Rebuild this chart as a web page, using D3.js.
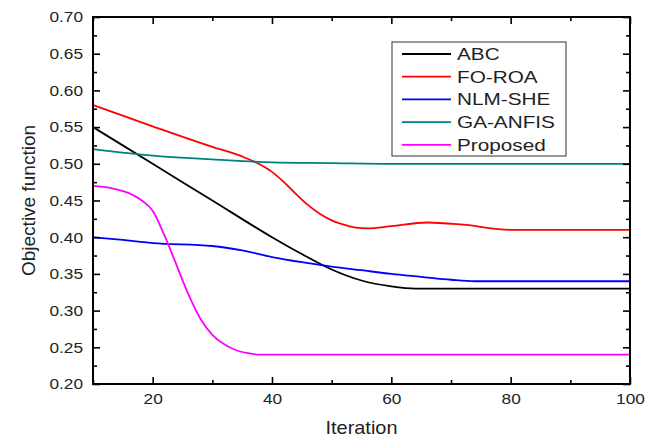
<!DOCTYPE html>
<html>
<head>
<meta charset="utf-8">
<script src="https://cdn.jsdelivr.net/npm/d3@7"></script>
<style>
  html, body { margin: 0; padding: 0; background: #fff; }
  svg { display: block; }
  text { font-family: "Liberation Sans", Arial, sans-serif; fill: #222; }
</style>
</head>
<body>
<svg id="chart" width="656" height="438"></svg>
<script>
// ---- data ----
const seriesNames = ["ABC", "FO-ROA", "NLM-SHE", "GA-ANFIS", "Proposed"];
const seriesColors = ["#000000", "#ff0000", "#0000ff", "#008080", "#ff00ff"];

const abcIter = [10, 20, 30, 40, 45, 50, 55, 60, 64, 100];
const abcVals = [0.55, 0.50, 0.45, 0.40, 0.377, 0.356, 0.341, 0.333, 0.33, 0.33];

const foroaIter = [10, 20, 30, 35, 38, 40, 42, 44, 46, 48, 50, 52, 54, 56, 60, 66, 72, 80, 100];
const foroaVals = [0.58, 0.551, 0.523, 0.51, 0.499, 0.489, 0.475, 0.459, 0.444, 0.432, 0.423, 0.417, 0.413, 0.412, 0.415, 0.42, 0.417, 0.41, 0.41];

const nlmIter = [10, 14, 20, 30, 35, 40, 45, 50, 55, 60, 65, 70, 74, 100];
const nlmVals = [0.40, 0.397, 0.392, 0.388, 0.382, 0.373, 0.366, 0.36, 0.355, 0.35, 0.346, 0.342, 0.34, 0.34];

const gaIter = [10, 20, 30, 40, 50, 60, 100];
const gaVals = [0.52, 0.511, 0.506, 0.502, 0.501, 0.50, 0.50];

const propIter = [10, 13, 16, 18, 20, 22, 24, 26, 28, 30, 32, 34, 36, 38, 40, 100];
const propVals = [0.47, 0.467, 0.460, 0.451, 0.436, 0.402, 0.362, 0.322, 0.289, 0.267, 0.254, 0.246, 0.242, 0.240, 0.24, 0.24];

const xMajorTicks = [20, 40, 60, 80, 100];
const xMinorTicks = [10, 30, 50, 70, 90];
const yMajorTicks = [0.20, 0.25, 0.30, 0.35, 0.40, 0.45, 0.50, 0.55, 0.60, 0.65, 0.70];
const yMinorTicks = [0.225, 0.275, 0.325, 0.375, 0.425, 0.475, 0.525, 0.575, 0.625, 0.675];

const xTitle = "Iteration";
const yTitle = "Objective function";

// ---- layout ----
const svg = d3.select("#chart");
const pL = 93, pR = 630, pT = 17, pB = 384;

const x = d3.scaleLinear().domain([10, 100]).range([pL, pR]);
const y = d3.scaleLinear().domain([0.2, 0.7]).range([pB, pT]);

const series = [
  { iter: abcIter, vals: abcVals },
  { iter: foroaIter, vals: foroaVals },
  { iter: nlmIter, vals: nlmVals },
  { iter: gaIter, vals: gaVals },
  { iter: propIter, vals: propVals }
];

function stretch(sel, f) {
  sel.each(function () {
    const len = this.getComputedTextLength();
    if (len > 0) d3.select(this).attr("textLength", len * f).attr("lengthAdjust", "spacingAndGlyphs");
  });
}

// lines
const line = d3.line().x(d => x(d[0])).y(d => y(d[1])).curve(d3.curveMonotoneX);
const plot = svg.append("g");
plot.append("clipPath").attr("id", "clip").append("rect")
  .attr("x", pL).attr("y", pT).attr("width", pR - pL).attr("height", pB - pT);
series.forEach((s, i) => {
  plot.append("path")
    .datum(s.iter.map((it, k) => [it, s.vals[k]]))
    .attr("fill", "none")
    .attr("stroke", seriesColors[i])
    .attr("stroke-width", 1.8)
    .attr("clip-path", "url(#clip)")
    .attr("d", line);
});

// axes (ticks inward)
function styleAxis(g) {
  g.selectAll(".domain").remove();
  g.selectAll("line").attr("stroke", "#000").attr("stroke-width", 1.6);
}
const majorLen = 7, minorLen = 4;
const fontFam = "Liberation Sans, Arial, sans-serif";

// bottom
const gB = svg.append("g").attr("transform", `translate(0,${pB})`);
gB.call(d3.axisBottom(x).tickValues(xMajorTicks).tickSize(-majorLen).tickPadding(9).tickFormat(d3.format("d")));
gB.append("g").call(d3.axisBottom(x).tickValues(xMinorTicks).tickSize(-minorLen).tickFormat(""));
styleAxis(gB);
gB.selectAll("text").attr("font-size", 15).attr("fill", "#222").attr("font-family", fontFam);
stretch(gB.selectAll("text"), 1.15);

// top
const gT = svg.append("g").attr("transform", `translate(0,${pT})`);
gT.call(d3.axisTop(x).tickValues(xMajorTicks).tickSize(-majorLen).tickFormat(""));
gT.append("g").call(d3.axisTop(x).tickValues(xMinorTicks).tickSize(-minorLen).tickFormat(""));
styleAxis(gT);

// left
const gL = svg.append("g").attr("transform", `translate(${pL},0)`);
gL.call(d3.axisLeft(y).tickValues(yMajorTicks).tickSize(-majorLen).tickPadding(10).tickFormat(d3.format(".2f")));
gL.append("g").call(d3.axisLeft(y).tickValues(yMinorTicks).tickSize(-minorLen).tickFormat(""));
styleAxis(gL);
gL.selectAll("text").attr("font-size", 15).attr("fill", "#222").attr("font-family", fontFam);
stretch(gL.selectAll("text"), 1.15);

// right
const gR = svg.append("g").attr("transform", `translate(${pR},0)`);
gR.call(d3.axisRight(y).tickValues(yMajorTicks).tickSize(-majorLen).tickFormat(""));
gR.append("g").call(d3.axisRight(y).tickValues(yMinorTicks).tickSize(-minorLen).tickFormat(""));
styleAxis(gR);

// frame
svg.append("rect").attr("x", pL).attr("y", pT).attr("width", pR - pL).attr("height", pB - pT)
  .attr("fill", "none").attr("stroke", "#000").attr("stroke-width", 2);

// titles
const xt = svg.append("text").attr("x", (pL + pR) / 2).attr("y", 434)
  .attr("text-anchor", "middle").attr("font-size", 19).text(xTitle);
stretch(xt, 1.05);
svg.append("text").attr("transform", `translate(35,${(pT + pB) / 2}) rotate(-90)`)
  .attr("text-anchor", "middle").attr("font-size", 19).text(yTitle);

// legend
const lg = svg.append("g");
lg.append("rect").attr("x", 392).attr("y", 42).attr("width", 174).attr("height", 114)
  .attr("fill", "#fff").attr("stroke", "#555").attr("stroke-width", 1.2);
seriesNames.forEach((name, i) => {
  const cy = 54 + i * 22.7;
  lg.append("line").attr("x1", 402).attr("x2", 451).attr("y1", cy).attr("y2", cy)
    .attr("stroke", seriesColors[i]).attr("stroke-width", 1.8);
  const t = lg.append("text").attr("x", 457).attr("y", cy + 6).attr("font-size", 17).text(name);
  stretch(t, 1.22);
});
</script>
</body>
</html>
